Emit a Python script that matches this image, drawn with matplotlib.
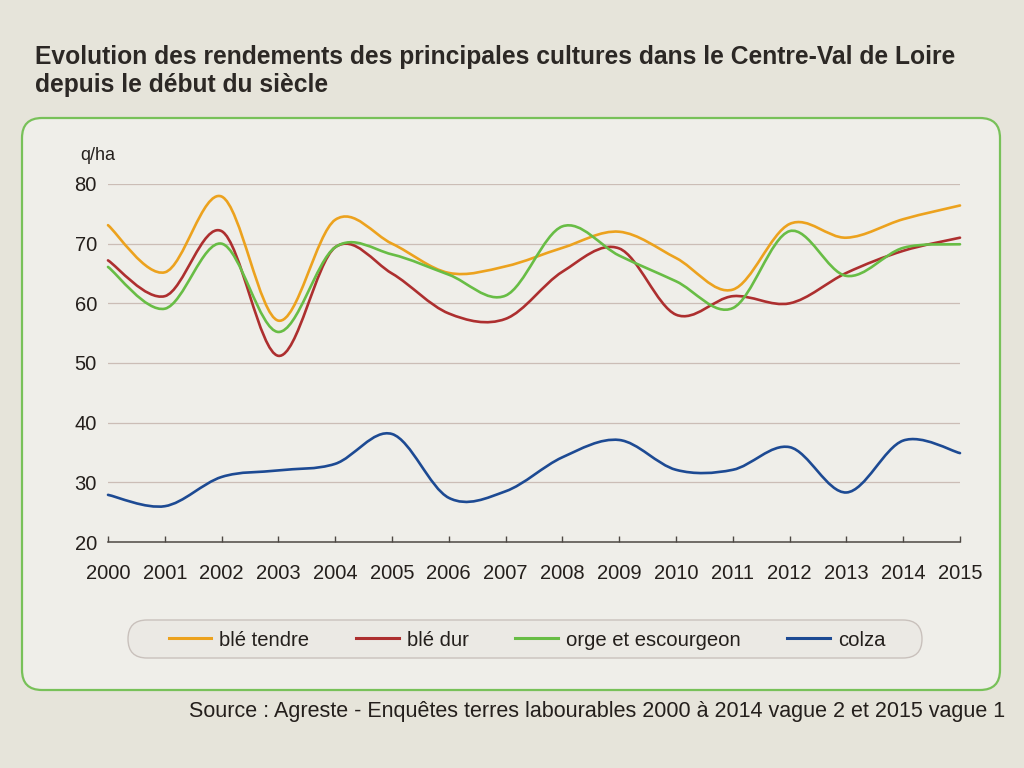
import numpy as np
import matplotlib
matplotlib.use('Agg')
import matplotlib.pyplot as plt
from matplotlib.path import Path
from matplotlib.patches import PathPatch, FancyBboxPatch
from matplotlib.lines import Line2D

plt.rcParams['font.family'] = ['Liberation Sans', 'DejaVu Sans']

years = list(range(2000, 2016))
ble_tendre = [73.1, 65.2, 77.9, 57.1, 74.0, 70.0, 65.1, 66.2, 69.3, 72.0, 67.6, 62.3, 73.3, 71.0, 74.1, 76.4]
ble_dur = [67.2, 61.2, 72.1, 51.2, 69.4, 65.0, 58.3, 57.4, 65.3, 69.2, 58.1, 61.2, 60.0, 65.1, 68.8, 71.0]
orge = [66.1, 59.1, 70.0, 55.2, 69.4, 68.2, 64.8, 61.3, 72.9, 68.0, 63.7, 59.2, 72.1, 64.6, 69.3, 69.9]
colza = [27.9, 26.0, 30.9, 32.0, 33.1, 38.1, 27.4, 28.5, 34.2, 37.1, 32.1, 32.1, 35.9, 28.3, 37.0, 34.9]

series = [('blé tendre', ble_tendre, '#eca21e'),
          ('blé dur', ble_dur, '#ad2f2f'),
          ('orge et escourgeon', orge, '#68bd45'),
          ('colza', colza, '#1d4a93')]

y_ticks = [20, 30, 40, 50, 60, 70, 80]

title = ("Evolution des rendements des principales cultures dans le Centre-Val de Loire\n"
         "depuis le début du siècle")
source = "Source : Agreste - Enquêtes terres labourables 2000 à 2014 vague 2 et 2015 vague 1"


def smooth_path(xs, ys):
    # catmull-rom through the yearly points, drawn as bezier segments
    p = np.column_stack([xs, ys]).astype(float)
    p = np.vstack([p[0], p, p[-1]])
    verts = [p[1]]
    codes = [Path.MOVETO]
    for i in range(1, len(p) - 2):
        c1 = p[i] + (p[i + 1] - p[i - 1]) / 6
        c2 = p[i + 1] - (p[i + 2] - p[i]) / 6
        verts += [c1, c2, p[i + 1]]
        codes += [Path.CURVE4] * 3
    return Path(verts, codes)


fig = plt.figure(figsize=(10.24, 7.68), dpi=100, facecolor='#e6e4da')

# green rounded frame
frame = FancyBboxPatch((0.22, 0.78), 9.78, 5.72, boxstyle='round,pad=0,rounding_size=0.2',
                       transform=fig.dpi_scale_trans, facecolor='#efeee9',
                       edgecolor='#78c159', linewidth=1.6, zorder=-2)
fig.add_artist(frame)

ax = fig.add_axes([108 / 1024, 1 - 542 / 768, (960 - 108) / 1024, (542 - 184) / 768])
ax.set_facecolor('none')
ax.set_xlim(2000, 2015)
ax.set_ylim(20, 80)

for name, vals, color in series:
    ax.add_patch(PathPatch(smooth_path(years, vals), fill=False, edgecolor=color,
                           linewidth=1.9, capstyle='round', zorder=3, clip_on=False))

for v in y_ticks[1:]:
    ax.axhline(v, color='#cbbdb6', linewidth=0.9, zorder=1)

for s in ['top', 'right', 'left']:
    ax.spines[s].set_visible(False)
ax.spines['bottom'].set_color('#4d4843')
ax.spines['bottom'].set_linewidth(1.1)

ax.set_xticks(years)
ax.set_xticklabels([str(y) for y in years])
ax.set_yticks(y_ticks)
ax.tick_params(axis='x', direction='in', length=4, width=1, color='#4d4843',
               pad=16, labelsize=14.5, labelcolor='#241f1c')
ax.tick_params(axis='y', length=0, pad=8, labelsize=14.5, labelcolor='#241f1c')

fig.text(80 / 1024, 1 - 155 / 768, 'q/ha', fontsize=13, color='#241f1c', va='center', ha='left')

fig.text(35 / 1024, 1 - 45 / 768, title, fontsize=17.7, fontweight='bold', color='#2c2825',
         ha='left', va='top', linespacing=1.2)

# legend pill
pill = FancyBboxPatch((1.28, 1.10), 7.94, 0.38, boxstyle='round,pad=0,rounding_size=0.19',
                      transform=fig.dpi_scale_trans, facecolor='#ebe9e4',
                      edgecolor='#c9c1bc', linewidth=1.0, zorder=-1)
fig.add_artist(pill)
handles = [Line2D([], [], color=c, linewidth=2.2) for _, _, c in series]
fig.legend(handles, [n for n, _, _ in series], loc='center', ncol=4,
           bbox_to_anchor=(527 / 1024, 1 - 640 / 768), frameon=False, fontsize=14.6,
           handlelength=2.1, handletextpad=0.4, columnspacing=2.3, labelcolor='#241f1c')

fig.text(1005 / 1024, 1 - 712 / 768, source, fontsize=15.5, color='#241f1c',
         ha='right', va='center')

fig.savefig('out.png', dpi=100, facecolor=fig.get_facecolor())
